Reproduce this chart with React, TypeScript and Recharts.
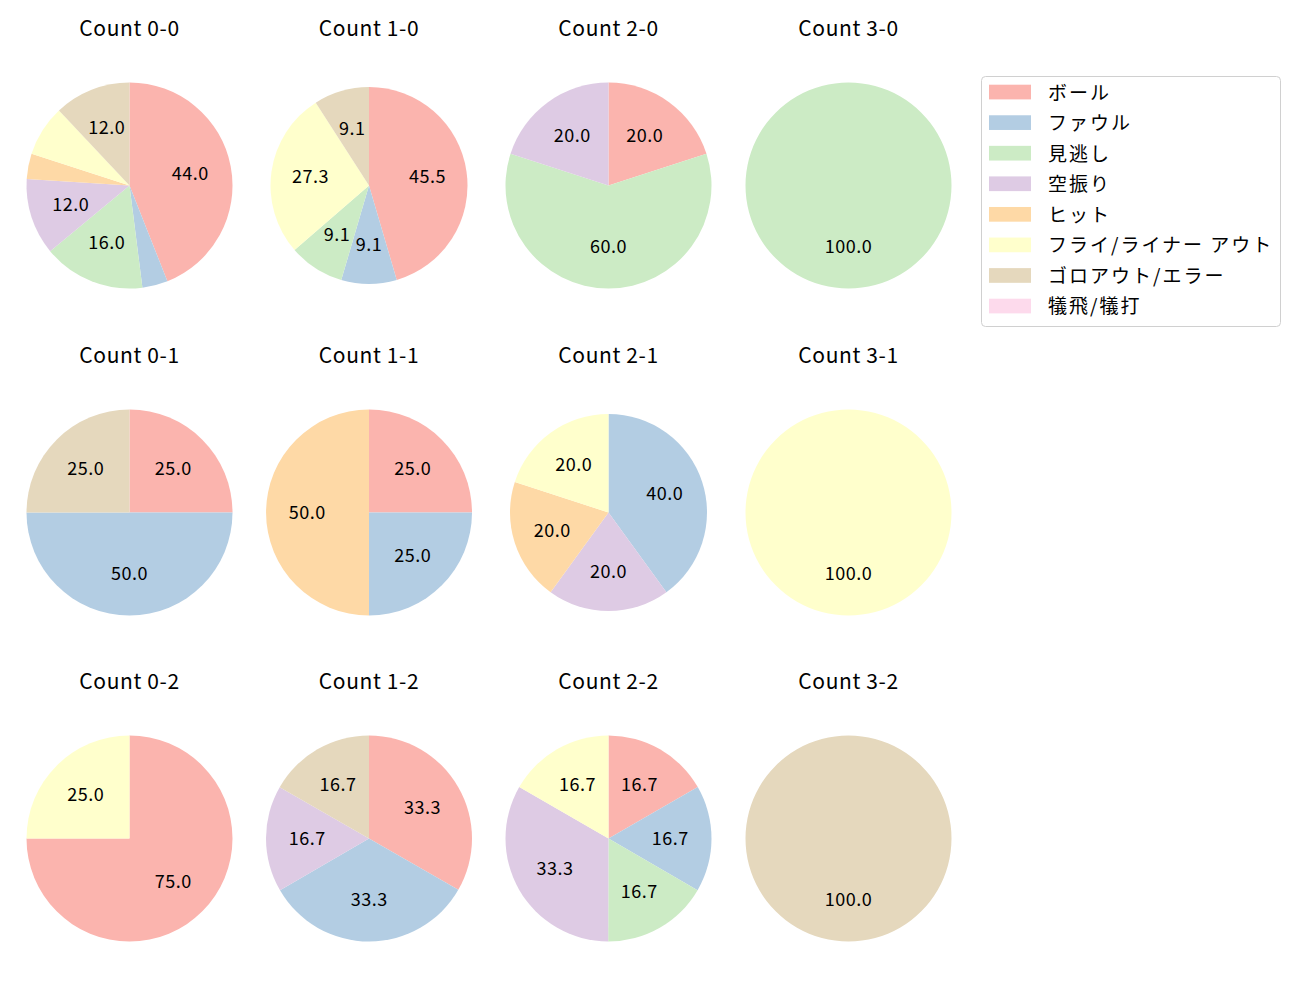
import React from 'react';
import { PieChart, Pie, Cell } from 'recharts';

const CATEGORIES = ['ボール', 'ファウル', '見逃し', '空振り', 'ヒット', 'フライ/ライナー アウト', 'ゴロアウト/エラー', '犠飛/犠打'];
const COLORS = ['#fbb4ae', '#b3cde3', '#ccebc5', '#decbe4', '#fed9a6', '#ffffcc', '#e5d8bd', '#fddaec'];
const COUNT_LABELS = ['0-0', '1-0', '2-0', '3-0', '0-1', '1-1', '2-1', '3-1', '0-2', '1-2', '2-2', '3-2'];

// percentages per category (order of CATEGORIES)
const count00 = [44.0, 4.0, 16.0, 12.0, 4.0, 8.0, 12.0, 0];
const count10 = [45.5, 9.1, 9.1, 0, 0, 27.3, 9.1, 0];
const count20 = [20.0, 0, 60.0, 20.0, 0, 0, 0, 0];
const count30 = [0, 0, 100.0, 0, 0, 0, 0, 0];
const count01 = [25.0, 50.0, 0, 0, 0, 0, 25.0, 0];
const count11 = [25.0, 25.0, 0, 0, 50.0, 0, 0, 0];
const count21 = [0, 40.0, 0, 20.0, 20.0, 20.0, 0, 0];
const count31 = [0, 0, 0, 0, 0, 100.0, 0, 0];
const count02 = [75.0, 0, 0, 0, 0, 25.0, 0, 0];
const count12 = [33.3, 33.3, 0, 16.7, 0, 0, 16.7, 0];
const count22 = [16.7, 16.7, 16.7, 33.3, 0, 16.7, 0, 0];
const count32 = [0, 0, 0, 0, 0, 0, 100.0, 0];

const SERIES = [count00, count10, count20, count30, count01, count11, count21, count31, count02, count12, count22, count32];

const COL_X = [129.5, 369, 608.5, 848.5];
const ROW_Y = [185.5, 512.5, 838.5];
const RADII = [103, 98.5, 103, 103, 103, 103, 98.5, 103, 103, 103, 103, 103];

const FONT = '"Noto Sans CJK JP", "Noto Sans", sans-serif';
const RAD = Math.PI / 180;

const renderLabel = (props: any) => {
  const { cx, cy, midAngle, outerRadius, value } = props;
  if (value < 9) return null;
  const r = outerRadius * 0.6;
  const x = cx + r * Math.cos(-midAngle * RAD);
  const y = cy + r * Math.sin(-midAngle * RAD);
  return (
    <text
      x={x}
      y={y - 2}
      textAnchor="middle"
      dominantBaseline="central"
      fill="#000"
      fontSize={18}
      letterSpacing={0.5}
      fontFamily={FONT}
    >
      {Number(value).toFixed(1)}
    </text>
  );
};

export default function App() {
  return (
    <div style={{ position: 'absolute', left: 0, top: 0, width: 1300, height: 1000, background: '#fff' }}>
      <div style={{ position: 'absolute', left: 0, top: 0 }}>
        <PieChart width={1300} height={1000} margin={{ top: 0, right: 0, bottom: 0, left: 0 }}>
          {SERIES.map((vals, i) => {
            const data = vals
              .map((v, k) => ({ name: CATEGORIES[k], value: v, color: COLORS[k] }))
              .filter((d) => d.value > 0);
            return (
              <Pie
                key={COUNT_LABELS[i]}
                data={data}
                dataKey="value"
                nameKey="name"
                cx={COL_X[i % 4]}
                cy={ROW_Y[Math.floor(i / 4)]}
                outerRadius={RADII[i]}
                innerRadius={0}
                startAngle={90}
                endAngle={-270}
                stroke="none"
                label={renderLabel}
                labelLine={false}
                isAnimationActive={false}
              >
                {data.map((d) => (
                  <Cell key={d.name} fill={d.color} stroke="none" />
                ))}
              </Pie>
            );
          })}
        </PieChart>
      </div>
      <svg width={1300} height={1000} style={{ position: 'absolute', left: 0, top: 0, pointerEvents: 'none' }}>
        {COUNT_LABELS.map((c, i) => (
          <text
            key={c}
            x={COL_X[i % 4]}
            y={ROW_Y[Math.floor(i / 4)] - 158.7}
            textAnchor="middle"
            dominantBaseline="central"
            fontSize={21}
            letterSpacing={0.6}
            fontFamily={FONT}
            fill="#000"
          >
            {`Count ${c}`}
          </text>
        ))}
        <rect x={981.5} y={76.5} width={299} height={250} rx={4} ry={4} fill="#fff" stroke="#d0d0d0" strokeWidth={1} />
        {CATEGORIES.map((cat, i) => {
          const cy = 92 + i * 30.57;
          return (
            <g key={cat}>
              <rect x={989} y={cy - 7.3} width={42} height={14.7} fill={COLORS[i]} />
              <text
                x={1048}
                y={cy - 1}
                dominantBaseline="central"
                fontSize={19}
                letterSpacing={2}
                fontFamily={FONT}
                fill="#000"
              >
                {cat}
              </text>
            </g>
          );
        })}
      </svg>
    </div>
  );
}
